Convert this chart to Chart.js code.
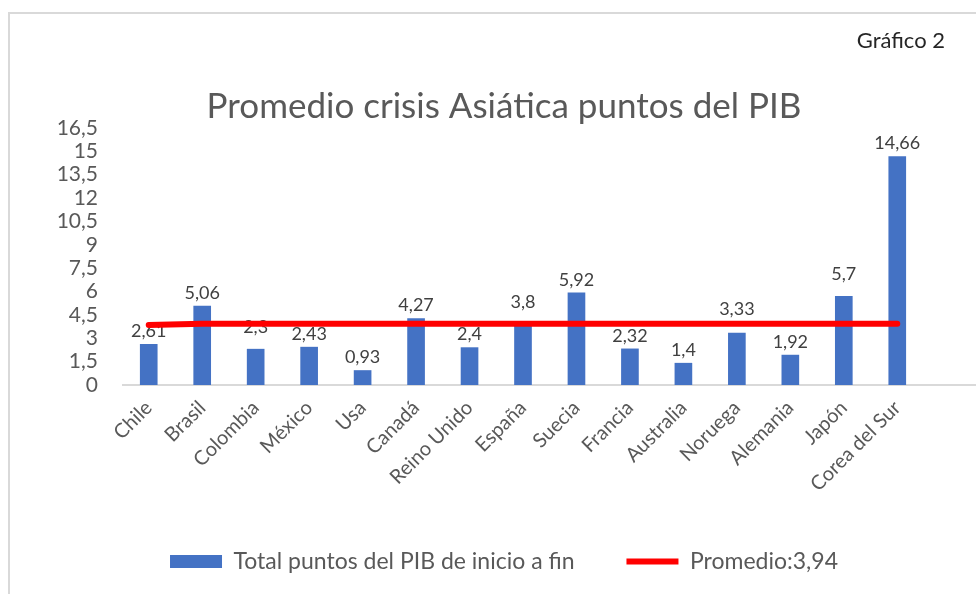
<!DOCTYPE html>
<html>
<head>
<meta charset="utf-8">
<script src="https://cdn.jsdelivr.net/npm/chart.js@4/dist/chart.umd.min.js"></script>
<style>
  html, body { margin: 0; padding: 0; background: #fff; }
  #wrap { position: relative; width: 976px; height: 594px; overflow: hidden; }
  #frame { position: absolute; left: 8px; top: 12px; width: 1000px; height: 620px;
           border-left: 2px solid #d9d9d9; border-top: 2px solid #d9d9d9; }
  canvas { position: absolute; left: 0; top: 0; }
</style>
</head>
<body>
<div id="wrap">
  <div id="frame"></div>
  <canvas id="chart" width="976" height="594"></canvas>
</div>
<script>
const countries = ['Chile', 'Brasil', 'Colombia', 'México', 'Usa', 'Canadá', 'Reino Unido', 'España',
  'Suecia', 'Francia', 'Australia', 'Noruega', 'Alemania', 'Japón', 'Corea del Sur'];
const totalPoints = [2.61, 5.06, 2.3, 2.43, 0.93, 4.27, 2.4, 3.8, 5.92, 2.32, 1.4, 3.33, 1.92, 5.7, 14.66];
const averagePoints = [3.85, 3.94, 3.94, 3.94, 3.94, 3.94, 3.94, 3.94, 3.94, 3.94, 3.94, 3.94, 3.94, 3.94, 3.94];
const yTicks = [0, 1.5, 3, 4.5, 6, 7.5, 9, 10.5, 12, 13.5, 15, 16.5];

const comma = v => String(v).replace('.', ',');

Chart.defaults.font.family = 'Lato';

// labels may hang outside their (narrow) scale box
const noLabelClip = s => { s._computeLabelArea = () => undefined; };

// bar value labels, drawn before the red line so the line sits on top
const barLabels = {
  id: 'barLabels',
  afterDatasetDraw(chart, args, opts) {
    if (args.index !== 0) return;
    const ctx = chart.ctx;
    ctx.save();
    ctx.font = '18px Lato';
    ctx.fillStyle = '#404040';
    ctx.textAlign = 'center';
    ctx.textBaseline = 'middle';
    args.meta.data.forEach((bar, i) => {
      const lift = opts.lifts[i] || opts.lift;
      ctx.fillText(comma(totalPoints[i]), bar.x, bar.y - lift);
    });
    ctx.restore();
  }
};

// axis line running out to the right edge, like the original
const baseLine = {
  id: 'baseLine',
  beforeDatasetsDraw(chart) {
    const ctx = chart.ctx;
    const y = chart.scales.y.getPixelForValue(0);
    ctx.save();
    ctx.strokeStyle = '#d9d9d9';
    ctx.lineWidth = 2;
    ctx.beginPath();
    ctx.moveTo(chart.chartArea.left, y);
    ctx.lineTo(chart.width, y);
    ctx.stroke();
    ctx.restore();
  }
};

const cornerNote = {
  id: 'cornerNote',
  afterDraw(chart) {
    const ctx = chart.ctx;
    ctx.save();
    ctx.font = '22px Lato';
    ctx.fillStyle = '#262626';
    ctx.textAlign = 'right';
    ctx.textBaseline = 'alphabetic';
    ctx.fillText('Gráfico 2', 945, 48);
    ctx.restore();
  }
};

new Chart(document.getElementById('chart'), {
  data: {
    labels: countries,
    datasets: [
      {
        type: 'bar',
        label: 'Total puntos del PIB de inicio a fin',
        data: totalPoints,
        backgroundColor: '#4472c4',
        borderWidth: 0,
        barThickness: 17,
        pointStyle: 'rect',
        order: 1
      },
      {
        type: 'line',
        label: 'Promedio:3,94',
        data: averagePoints,
        borderColor: '#ff0000',
        backgroundColor: '#ff0000',
        borderWidth: 6,
        borderCapStyle: 'round',
        pointRadius: 0,
        pointStyle: 'line',
        tension: 0,
        order: 0
      }
    ]
  },
  options: {
    responsive: false,
    animation: false,
    devicePixelRatio: 1,
    layout: { padding: { left: 84, right: 52, top: 0, bottom: 11 } },
    plugins: {
      title: {
        display: true,
        text: 'Promedio crisis Asiática puntos del PIB',
        color: '#595959',
        font: { size: 35, weight: 'normal', lineHeight: 1.2 },
        padding: { top: 86, bottom: 0 }
      },
      legend: {
        position: 'bottom',
        labels: {
          usePointStyle: true,
          pointStyleWidth: 52,
          boxHeight: 13,
          padding: 52,
          color: '#595959',
          font: { size: 23 },
          sort: (a, b) => a.datasetIndex - b.datasetIndex
        }
      },
      tooltip: { enabled: false },
      barLabels: { lift: 13, lifts: { 2: 22, 7: 24, 11: 24, 13: 22 } }
    },
    scales: {
      x: {
        offset: true,
        grid: { display: false },
        border: { display: false },
        ticks: {
          autoSkip: false,
          maxRotation: 45,
          minRotation: 45,
          color: '#595959',
          font: { size: 20 },
          padding: 3
        },
        afterFit: s => { s.height = 113; noLabelClip(s); }
      },
      y: {
        min: 0,
        max: 16.5,
        grid: { display: false },
        border: { display: false },
        afterBuildTicks: s => { s.ticks = yTicks.map(v => ({ value: v })); },
        ticks: {
          autoSkip: false,
          color: '#595959',
          font: { size: 21 },
          padding: 16,
          callback: v => comma(v)
        },
        afterFit: s => { s.width = 38; noLabelClip(s); }
      }
    }
  },
  plugins: [barLabels, baseLine, cornerNote]
});
</script>
</body>
</html>
